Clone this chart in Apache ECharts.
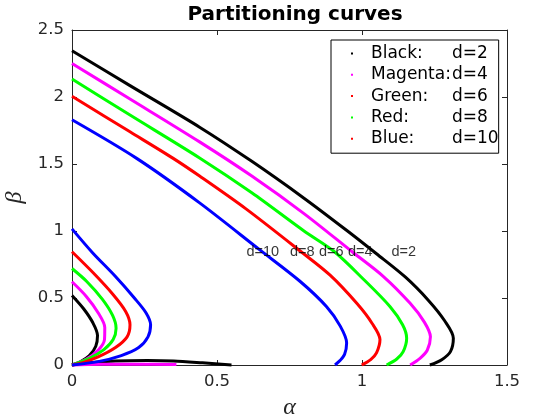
<!DOCTYPE html>
<html>
<head>
<meta charset="utf-8">
<script src="https://cdn.jsdelivr.net/npm/echarts@6/dist/echarts.min.js"></script>
<style>
  html, body { margin: 0; padding: 0; background: #fff; }
  #app { width: 560px; height: 420px; }
</style>
</head>
<body>
<div id="app"></div>
<script>
// curve names / colours
const curveNames = ['Black', 'Magenta', 'Green', 'Red', 'Blue'];
const dLabels = ['d=2', 'd=4', 'd=6', 'd=8', 'd=10'];
const curveColors = ['#000000', '#ff00ff', '#00ff00', '#ff0000', '#0000ff'];
// legend dots do not match the curves in the original
const legendDotColors = ['#000000', '#ff00ff', '#ff0000', '#00ff00', '#ff0000'];

// outer branches [alpha, beta]
const blackOuter = [[0, 2.345], [0.2, 2.085], [0.44, 1.775], [0.62, 1.52], [0.8, 1.245], [0.95, 1.0], [1.05, 0.83], [1.15, 0.655], [1.23, 0.48], [1.285, 0.33], [1.315, 0.2], [1.305, 0.1], [1.275, 0.04], [1.234, 0]];
const magentaOuter = [[0, 2.25], [0.2, 1.985], [0.44, 1.665], [0.62, 1.41], [0.8, 1.13], [0.966, 0.845], [1.074, 0.66], [1.166, 0.46], [1.215, 0.32], [1.236, 0.21], [1.225, 0.11], [1.2, 0.05], [1.166, 0]];
const greenOuter = [[0, 2.134], [0.2, 1.865], [0.44, 1.545], [0.62, 1.285], [0.8, 1.0], [0.905, 0.845], [1.005, 0.64], [1.097, 0.435], [1.14, 0.3], [1.154, 0.2], [1.142, 0.1], [1.12, 0.045], [1.085, 0]];
const redOuter = [[0, 2.005], [0.2, 1.74], [0.349, 1.542], [0.44, 1.41], [0.6, 1.165], [0.79, 0.845], [0.89, 0.67], [0.982, 0.46], [1.035, 0.31], [1.062, 0.19], [1.05, 0.09], [1.03, 0.04], [0.999, 0]];
const blueOuter = [[0, 1.83], [0.223, 1.542], [0.44, 1.21], [0.65, 0.855], [0.786, 0.625], [0.878, 0.435], [0.925, 0.29], [0.947, 0.165], [0.94, 0.08], [0.925, 0.035], [0.907, 0]];

// inner branches near the origin
const blackInner = [[0, 0.519], [0.04, 0.42], [0.072, 0.315], [0.088, 0.22], [0.082, 0.14], [0.06, 0.07], [0.03, 0.025], [0, 0]];
const magentaInner = [[0, 0.621], [0.05, 0.51], [0.09, 0.39], [0.113, 0.28], [0.112, 0.19], [0.09, 0.11], [0.05, 0.045], [0, 0]];
const greenInner = [[0, 0.72], [0.05, 0.625], [0.105, 0.49], [0.14, 0.37], [0.152, 0.275], [0.142, 0.19], [0.11, 0.115], [0.06, 0.05], [0, 0]];
const redInner = [[0, 0.845], [0.073, 0.688], [0.14, 0.53], [0.185, 0.4], [0.2, 0.3], [0.19, 0.21], [0.15, 0.13], [0.09, 0.06], [0.04, 0.02], [0, 0]];
const blueInner = [[0, 1.016], [0.07, 0.84], [0.15, 0.66], [0.215, 0.5], [0.255, 0.39], [0.271, 0.3], [0.262, 0.21], [0.23, 0.13], [0.17, 0.07], [0.09, 0.025], [0, 0]];

// low branches along the alpha axis
const blackLow = [[0, 0], [0.05, 0.015], [0.15, 0.03], [0.26, 0.034], [0.35, 0.03], [0.45, 0.016], [0.55, 0]];
const magentaLow = [[0, 0], [0.1, 0.005], [0.2, 0.006], [0.36, 0.004]];

// text marks on the plot
const markText = ['d=10', 'd=8', 'd=6', 'd=4', 'd=2'];
const markX = [0.6, 0.75, 0.85, 0.95, 1.1];
const markY = [0.845, 0.845, 0.845, 0.845, 0.845];

const outers = [blackOuter, magentaOuter, greenOuter, redOuter, blueOuter];
const inners = [blackInner, magentaInner, greenInner, redInner, blueInner];
const lows = [blackLow, magentaLow, null, null, null];

const axisColor = '#262626';
const font = 'DejaVu Sans, sans-serif';
const mathFont = 'Liberation Serif, DejaVu Serif, serif';

function lineSeries(name, data, color) {
  return {
    name: name,
    type: 'line',
    data: data,
    showSymbol: false,
    smooth: 0.3,
    clip: false,
    silent: true,
    color: color,
    lineStyle: { color: color, width: 3 },
    emphasis: { disabled: true }
  };
}

const series = [];
curveNames.forEach(function (n, i) {
  series.push(lineSeries(n, outers[i], curveColors[i]));
  series.push(lineSeries(n, inners[i], curveColors[i]));
  if (lows[i]) series.push(lineSeries(n, lows[i], curveColors[i]));
});
series.push({
  name: 'marks',
  type: 'scatter',
  symbolSize: 1,
  itemStyle: { color: 'rgba(0,0,0,0)' },
  silent: true,
  z: 5,
  data: markX.map(function (x, i) { return [x, markY[i], markText[i]]; }),
  label: {
    show: true,
    position: 'right',
    distance: 0,
    formatter: function (p) { return p.data[2]; },
    color: '#000',
    fontFamily: 'Liberation Sans, sans-serif',
    fontSize: 14.5
  }
});

function axisBase(pos, showLabel) {
  return {
    type: 'value',
    position: pos,
    min: 0,
    interval: 0.5,
    axisLine: { show: true, onZero: false, lineStyle: { color: axisColor, width: 1 } },
    axisTick: { show: true, inside: true, length: 5, lineStyle: { color: axisColor } },
    splitLine: { show: false },
    axisLabel: { show: showLabel, color: axisColor, fontSize: 16.5, fontFamily: font, margin: 8 }
  };
}

const xMain = Object.assign(axisBase('bottom', true), {
  max: 1.5,
  name: 'α',
  nameLocation: 'middle',
  nameGap: 31,
  nameTextStyle: { fontFamily: mathFont, fontStyle: 'italic', fontSize: 24, color: axisColor }
});
const xTop = Object.assign(axisBase('top', false), { max: 1.5 });
const yMain = Object.assign(axisBase('left', true), {
  max: 2.5,
  name: 'β',
  nameLocation: 'middle',
  nameGap: 31,
  nameRotate: 90,
  nameTextStyle: { fontFamily: mathFont, fontStyle: 'italic', fontSize: 24, color: axisColor }
});
const yRight = Object.assign(axisBase('right', false), { max: 2.5 });

const chart = echarts.init(document.getElementById('app'), null, { renderer: 'canvas' });
chart.setOption({
  animation: false,
  backgroundColor: '#fff',
  title: {
    text: 'Partitioning curves',
    left: 290,
    textAlign: 'center',
    top: 0,
    textStyle: { fontFamily: font, fontWeight: 'bold', fontSize: 20, color: '#000' }
  },
  grid: { left: 72, right: 53, top: 30, bottom: 55, outerBoundsMode: 'none', containLabel: false },
  xAxis: [xMain, xTop],
  yAxis: [yMain, yRight],
  legend: {
    left: 331,
    top: 40,
    orient: 'vertical',
    backgroundColor: '#fff',
    borderColor: '#000',
    borderWidth: 1,
    borderRadius: 0,
    padding: [5, 0, 6, 20],
    itemGap: 4.3,
    itemWidth: 2,
    itemHeight: 2,
    itemTextGap: 17,
    selectedMode: false,
    data: curveNames.map(function (n, i) {
      return { name: n, icon: 'rect', itemStyle: { color: legendDotColors[i] } };
    }),
    formatter: function (name) {
      const i = curveNames.indexOf(name);
      return '{a|' + name + ':}{b|' + dLabels[i] + '}';
    },
    textStyle: {
      color: '#000',
      fontFamily: font,
      fontSize: 17,
      rich: {
        a: { fontFamily: font, fontSize: 17, width: 81, padding: [0, 0, 0, 13] },
        b: { fontFamily: font, fontSize: 17, width: 38 }
      }
    }
  },
  series: series
});
</script>
</body>
</html>
